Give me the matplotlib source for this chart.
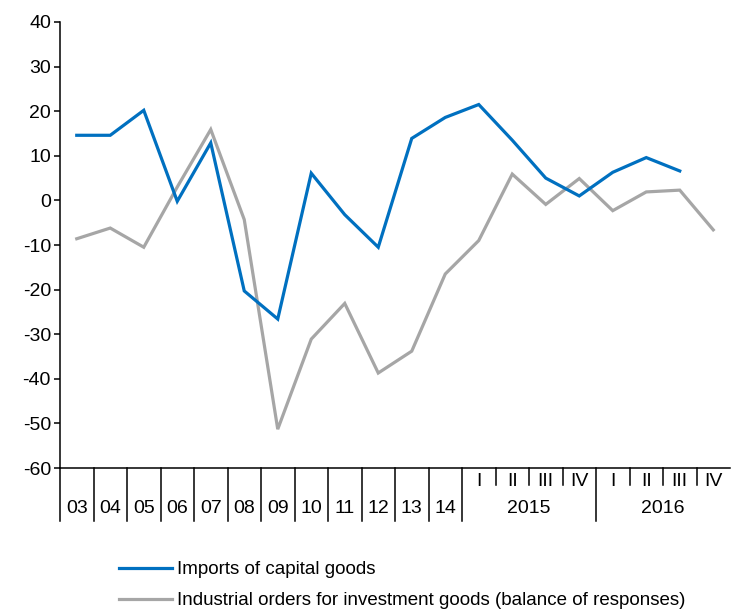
import matplotlib.pyplot as plt

plt.rcParams['font.family'] = ['Liberation Sans', 'DejaVu Sans']
plt.rcParams['axes.unicode_minus'] = False

# category labels
years = ['03', '04', '05', '06', '07', '08', '09', '10', '11', '12', '13', '14']
quarters = ['I', 'II', 'III', 'IV']
quarter_years = ['2015', '2016']

# series values
imports = [14.6, 14.6, 20.2, -0.2, 12.9, -20.3, -26.6, 6.1, -3.2, -10.5, 13.9, 18.6,
           21.5, 13.5, 5.0, 1.0, 6.3, 9.6, 6.6, None]
orders = [-8.6, -6.2, -10.5, 3.0, 15.9, -4.3, -51.3, -31.1, -23.1, -38.7, -33.8, -16.5,
          -9.0, 5.9, -0.9, 4.9, -2.3, 1.9, 2.3, -6.6]

n = len(years) + len(quarters) * len(quarter_years)
x = list(range(n))

fig = plt.figure(figsize=(7.31, 6.11), dpi=100)
ax = fig.add_axes([60 / 731, 1 - 468 / 611, 670 / 731, 446 / 611])

imp_x = [i for i, v in zip(x, imports) if v is not None]
imp_y = [v for v in imports if v is not None]
l1, = ax.plot(imp_x, imp_y, color='#0070C0', lw=2.3, solid_joinstyle='miter',
              label='Imports of capital goods', zorder=3)
l2, = ax.plot(x, orders, color='#A6A6A6', lw=2.3, solid_joinstyle='miter',
              label='Industrial orders for investment goods (balance of responses)', zorder=2)

ax.set_xlim(-0.5, n - 0.5)
ax.set_ylim(-60, 40)
ax.set_yticks(range(-60, 41, 10))
ax.tick_params(axis='y', labelsize=14, length=4.5, width=1.1, pad=2, direction='out')
ax.set_xticks([])
for s in ['top', 'right']:
    ax.spines[s].set_visible(False)
for s in ['left', 'bottom']:
    ax.spines[s].set_linewidth(1.1)

tr = ax.get_xaxis_transform()
y_quarter = -0.031
y_year = -0.0897
y_long = -0.119
y_short = -0.038
fs = 14

# annual categories
for i, lab in enumerate(years):
    ax.text(i, y_year, lab, transform=tr, ha='center', va='center', fontsize=fs)
    ax.plot([i - 0.5, i - 0.5], [0, y_long], transform=tr, color='black', lw=1.1, clip_on=False)

# quarterly categories grouped by year
start = len(years)
for k, yr in enumerate(quarter_years):
    first = start + k * len(quarters)
    ax.plot([first - 0.5, first - 0.5], [0, y_long], transform=tr, color='black', lw=1.1, clip_on=False)
    for j, q in enumerate(quarters):
        pos = first + j
        ax.text(pos, y_quarter, q, transform=tr, ha='center', va='center', fontsize=fs)
        if j > 0:
            ax.plot([pos - 0.5, pos - 0.5], [0, y_short], transform=tr, color='black', lw=1.1,
                    clip_on=False)
    ax.text(first + 1.5, y_year, yr, transform=tr, ha='center', va='center', fontsize=fs)

fig.legend(handles=[l1, l2], loc='upper left', bbox_to_anchor=(119 / 731, 1 - 561 / 611),
           frameon=False, fontsize=13.5, handlelength=2.8, handletextpad=0.3,
           labelspacing=0.75, borderpad=0, borderaxespad=0)

fig.savefig('out.png', dpi=100)
